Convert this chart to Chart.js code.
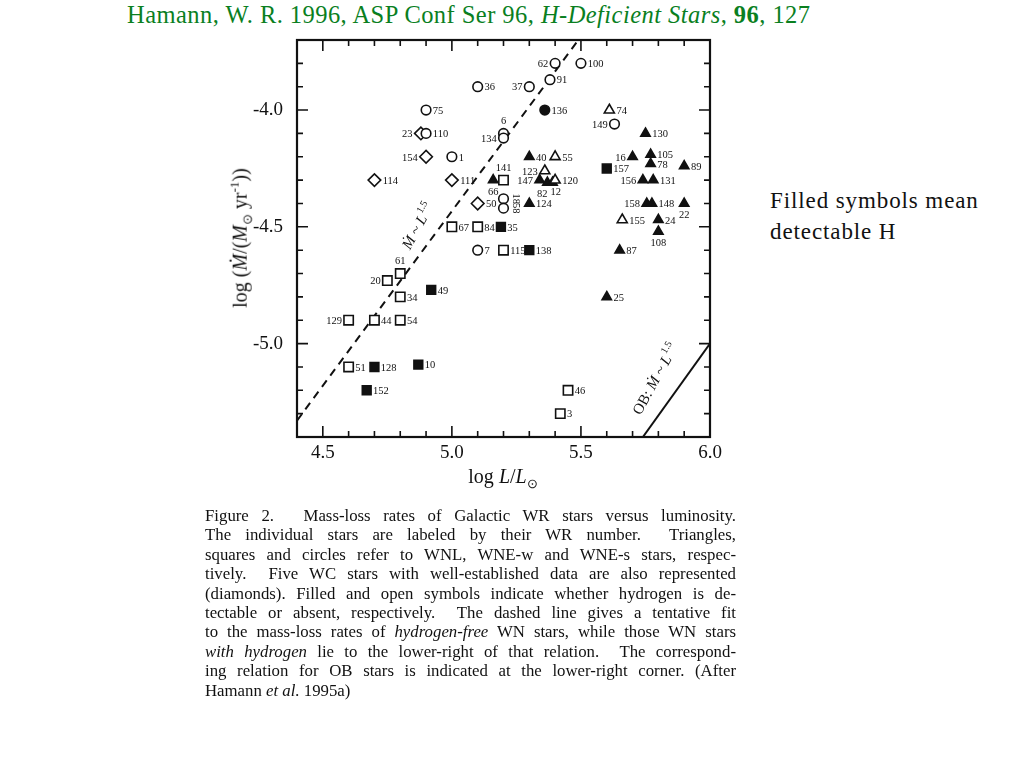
<!doctype html>
<html lang="en">
<head>
<meta charset="UTF-8">
<title>Hamann 1996, Figure 2</title>
<script src="https://cdn.jsdelivr.net/npm/chart.js"></script>
<style>
  body { margin: 0; background: #fff; width: 1024px; height: 768px; position: relative; overflow: hidden;
         font-family: "Liberation Serif", "Times New Roman", serif; color: #111; }
  #myChart { position: absolute; left: 0; top: 0; }
  .abs { position: absolute; white-space: nowrap; }
  #title { left: 127px; top: 1px; font-size: 24.5px; letter-spacing: 0.45px; color: #0a7f1f; }
  #note { left: 770px; top: 185px; font-size: 23px; letter-spacing: 0.9px; line-height: 31px; }
  #xlab { left: 503px; top: 478px; font-size: 20px; transform: translate(-50%, -50%); }
  #ylab { left: 241px; top: 238px; font-size: 20px; transform: translate(-50%, -50%) rotate(-90deg); }
  sub, sup { font-size: 65%; }
  #caption { left: 205px; top: 506px; width: 531px; font-size: 16.8px; line-height: 19.4px; }
  #caption div { text-align: justify; text-align-last: justify; white-space: normal; }
  #caption div.last { text-align-last: left; }
</style>
</head>
<body>

<div class="abs" id="title">Hamann, W. R. 1996, ASP Conf Ser 96, <i>H-Deficient Stars</i>, <b>96</b>, 127</div>
<div class="abs" id="note">Filled symbols mean<br>detectable H</div>

<canvas id="myChart" width="1024" height="768"></canvas>

<div class="abs" id="xlab">log <i>L</i>/<i>L</i><sub>⊙</sub></div>
<div class="abs" id="ylab">log (<i>Ṁ</i>/(<i>M</i><sub>⊙</sub> yr<sup>-1</sup>))</div>

<div class="abs" id="caption">
  <div>Figure 2.&emsp; Mass-loss rates of Galactic WR stars versus luminosity.</div>
  <div>The individual stars are labeled by their WR number.&nbsp; Triangles,</div>
  <div>squares and circles refer to WNL, WNE-w and WNE-s stars, respec-</div>
  <div>tively.&nbsp; Five WC stars with well-established data are also represented</div>
  <div>(diamonds). Filled and open symbols indicate whether hydrogen is de-</div>
  <div>tectable or absent, respectively.&nbsp; The dashed line gives a tentative fit</div>
  <div>to the mass-loss rates of <i>hydrogen-free</i> WN stars, while those WN stars</div>
  <div><i>with hydrogen</i> lie to the lower-right of that relation.&nbsp; The correspond-</div>
  <div>ing relation for OB stars is indicated at the lower-right corner. (After</div>
  <div class="last">Hamann <i>et al.</i> 1995a)</div>
</div>

<script>
    // WR numbers, log L/Lsun, log Mdot
    var openCircleId = ['36', '75', '110', '1', '62', '100', '37', '91', '149', '6', '134', '7', '18', '58'];
    var openCircleL  = [5.1, 4.9, 4.9, 5.0, 5.4, 5.5, 5.3, 5.38, 5.63, 5.2, 5.2, 5.1, 5.2, 5.2];
    var openCircleM  = [-3.9, -4.0, -4.1, -4.2, -3.8, -3.8, -3.9, -3.87, -4.06, -4.1, -4.12, -4.6, -4.38, -4.42];

    var filledCircleId = ['136'];
    var filledCircleL  = [5.36];
    var filledCircleM  = [-4.0];

    var diamondId = ['23', '154', '114', '111', '50'];
    var diamondL  = [4.88, 4.9, 4.7, 5.0, 5.1];
    var diamondM  = [-4.1, -4.2, -4.3, -4.3, -4.4];

    var openSquareId = ['141', '67', '84', '115', '61', '20', '34', '129', '44', '54', '51', '46', '3'];
    var openSquareL  = [5.2, 5.0, 5.1, 5.2, 4.8, 4.75, 4.8, 4.6, 4.7, 4.8, 4.6, 5.45, 5.42];
    var openSquareM  = [-4.3, -4.5, -4.5, -4.6, -4.7, -4.73, -4.8, -4.9, -4.9, -4.9, -5.1, -5.2, -5.3];

    var filledSquareId = ['157', '35', '138', '49', '128', '10', '152'];
    var filledSquareL  = [5.6, 5.19, 5.3, 4.92, 4.7, 4.87, 4.67];
    var filledSquareM  = [-4.25, -4.5, -4.6, -4.77, -5.1, -5.09, -5.2];

    var openTriangleId = ['74', '55', '123', '120', '155'];
    var openTriangleL  = [5.61, 5.4, 5.36, 5.4, 5.66];
    var openTriangleM  = [-4.0, -4.2, -4.26, -4.3, -4.47];

    var filledTriangleId = ['40', '66', '147', '82', '12', '124', '16', '105', '78', '89',
                            '130', '156', '131', '158', '148', '22', '24', '108', '87', '25'];
    var filledTriangleL  = [5.3, 5.16, 5.34, 5.37, 5.39, 5.3, 5.7, 5.77, 5.77, 5.9,
                            5.75, 5.74, 5.78, 5.755, 5.775, 5.9, 5.8, 5.8, 5.65, 5.6];
    var filledTriangleM  = [-4.2, -4.3, -4.3, -4.31, -4.31, -4.4, -4.2, -4.19, -4.23, -4.24,
                            -4.1, -4.3, -4.3, -4.4, -4.4, -4.4, -4.47, -4.52, -4.6, -4.8];

    // fit lines: hydrogen-free WN (dashed) and OB stars (solid)
    var dashL = [4.4, 5.49];
    var dashM = [-5.33, -3.7];
    var obL = [5.74, 6.0];
    var obM = [-5.4, -5.0];

    // which side of the symbol the WR number sits (default right)
    var labelSide = {
        '62': 'l', '37': 'l', '149': 'l', '6': 't', '134': 'l', '18': 'v', '58': 'v',
        '23': 'l', '154': 'l', '141': 't', '61': 't', '20': 'l', '129': 'l',
        '123': 'l', '66': 'b', '147': 'l', '82': 'bl', '12': 'br', '16': 'l',
        '156': 'l', '158': 'l', '22': 'b', '108': 'b'
    };

    var ink = '#111';

    // visible half width of each marker, as a share of its radius
    var halfWidth = {circle: 1, rect: 0.71, rectRot: 1, triangle: 0.87};

    function pts(xs, ys) {
        return xs.map(function (x, i) { return {x: x, y: ys[i]}; });
    }

    function stars(ids, xs, ys, style, r, filled) {
        return {
            ids: ids,
            data: pts(xs, ys),
            pointStyle: style,
            pointRadius: r,
            pointHoverRadius: r,
            pointBorderWidth: 1.6,
            borderColor: ink,
            backgroundColor: filled ? ink : '#fff',
            showLine: false
        };
    }

    var isMajor = function (v) { return Math.abs(v * 2 - Math.round(v * 2)) < 1e-6; };

    // frame with inward ticks on all four sides
    var frame = {
        id: 'frame',
        afterDatasetsDraw: function (chart) {
            var a = chart.chartArea, c = chart.ctx;
            var xs = chart.scales.x, ys = chart.scales.y;
            c.save();
            c.strokeStyle = ink;
            c.lineWidth = 1.6;
            c.beginPath();
            xs.ticks.forEach(function (t) {
                var p = xs.getPixelForValue(t.value), len = isMajor(t.value) ? 11 : 6;
                c.moveTo(p, a.bottom); c.lineTo(p, a.bottom - len);
                c.moveTo(p, a.top); c.lineTo(p, a.top + len);
            });
            ys.ticks.forEach(function (t) {
                var p = ys.getPixelForValue(t.value), len = isMajor(t.value) ? 11 : 6;
                c.moveTo(a.left, p); c.lineTo(a.left + len, p);
                c.moveTo(a.right, p); c.lineTo(a.right - len, p);
            });
            c.stroke();
            c.lineWidth = 2.2;
            c.strokeRect(a.left, a.top, a.right - a.left, a.bottom - a.top);

            // relation labels along the lines (set a bit steeper than the lines, as printed)
            var ang = -61 * Math.PI / 180;
            function relation(prefix, cx, cy) {
                c.save();
                c.translate(xs.getPixelForValue(cx), ys.getPixelForValue(cy));
                c.rotate(ang);
                c.fillStyle = ink;
                c.textBaseline = 'middle';
                var big = 'italic 15px "Liberation Serif"', small = '10px "Liberation Serif"';
                var up = '15px "Liberation Serif"';
                c.font = up; var w0 = c.measureText(prefix).width;
                c.font = big; var w1 = c.measureText('Ṁ ~ L').width;
                c.font = small; var w2 = c.measureText('1.5').width;
                var x0 = -(w0 + w1 + w2) / 2;
                c.font = up; c.fillText(prefix, x0, 0);
                c.font = big; c.fillText('Ṁ ~ L', x0 + w0, 0);
                c.font = small; c.fillText('1.5', x0 + w0 + w1 + 1, -6);
                c.restore();
            }
            relation('', 4.87, -4.5);
            relation('OB: ', 5.79, -5.155);
            c.restore();
        }
    };

    // WR numbers next to the symbols
    var starLabels = {
        id: 'starLabels',
        afterDatasetsDraw: function (chart) {
            var c = chart.ctx;
            c.save();
            c.font = '10.5px "Liberation Serif"';
            c.fillStyle = ink;
            chart.data.datasets.forEach(function (ds, i) {
                if (!ds.ids) return;
                var r = ds.pointRadius, hw = r * halfWidth[ds.pointStyle];
                chart.getDatasetMeta(i).data.forEach(function (pt, j) {
                    var id = ds.ids[j], side = labelSide[id] || 'r';
                    if (side === 'r') {
                        c.textAlign = 'left'; c.textBaseline = 'middle';
                        c.fillText(id, pt.x + hw + 2, pt.y + 1);
                    } else if (side === 'l') {
                        c.textAlign = 'right'; c.textBaseline = 'middle';
                        c.fillText(id, pt.x - hw - 2, pt.y + 1);
                    } else if (side === 't') {
                        c.textAlign = 'center'; c.textBaseline = 'bottom';
                        c.fillText(id, pt.x, pt.y - hw - 2);
                    } else if (side === 'b') {
                        c.textAlign = 'center'; c.textBaseline = 'top';
                        c.fillText(id, pt.x, pt.y + hw + 2);
                    } else if (side === 'bl') {
                        c.textAlign = 'right'; c.textBaseline = 'top';
                        c.fillText(id, pt.x, pt.y + hw + 2);
                    } else if (side === 'br') {
                        c.textAlign = 'left'; c.textBaseline = 'top';
                        c.fillText(id, pt.x - 2, pt.y + hw);
                    } else {
                        c.save();
                        c.translate(pt.x + hw + 2, pt.y);
                        c.rotate(Math.PI / 2);
                        c.textAlign = 'center'; c.textBaseline = 'bottom';
                        c.fillText(id, 0, 0);
                        c.restore();
                    }
                });
            });
            c.restore();
        }
    };

    var tickFont = {family: '"Liberation Serif", serif', size: 19};

    var chart = new Chart(document.getElementById('myChart'), {
        type: 'scatter',
        data: {
            datasets: [
                stars(openCircleId, openCircleL, openCircleM, 'circle', 4.8, false),
                stars(filledCircleId, filledCircleL, filledCircleM, 'circle', 4.8, true),
                stars(diamondId, diamondL, diamondM, 'rectRot', 6.3, false),
                stars(openSquareId, openSquareL, openSquareM, 'rect', 6.6, false),
                stars(filledSquareId, filledSquareL, filledSquareM, 'rect', 6.2, true),
                stars(openTriangleId, openTriangleL, openTriangleM, 'triangle', 5.8, false),
                stars(filledTriangleId, filledTriangleL, filledTriangleM, 'triangle', 5.4, true),
                {
                    data: pts(dashL, dashM), showLine: true, borderColor: ink, borderWidth: 2,
                    borderDash: [8, 6], pointRadius: 0
                },
                {
                    data: pts(obL, obM), showLine: true, borderColor: ink, borderWidth: 2, pointRadius: 0
                }
            ]
        },
        options: {
            responsive: false,
            animation: false,
            layout: {padding: {left: 237, top: 40, right: 314, bottom: 301}},
            plugins: {legend: {display: false}, tooltip: {enabled: false}},
            scales: {
                x: {
                    type: 'linear', min: 4.4, max: 6.0,
                    grid: {display: false, drawTicks: false}, border: {display: false},
                    afterFit: function (s) { s.height = 30; },
                    ticks: {
                        stepSize: 0.1, autoSkip: false, maxRotation: 0, padding: 5,
                        color: ink, font: tickFont,
                        callback: function (v) { return isMajor(v) ? v.toFixed(1) : ''; }
                    }
                },
                y: {
                    type: 'linear', min: -5.4, max: -3.7,
                    grid: {display: false, drawTicks: false}, border: {display: false},
                    afterFit: function (s) { s.width = 60; },
                    ticks: {
                        stepSize: 0.1, autoSkip: false, padding: 14,
                        color: ink, font: tickFont,
                        callback: function (v) { return isMajor(v) ? v.toFixed(1) : ''; }
                    }
                }
            }
        },
        plugins: [frame, starLabels]
    });
</script>
</body>
</html>
